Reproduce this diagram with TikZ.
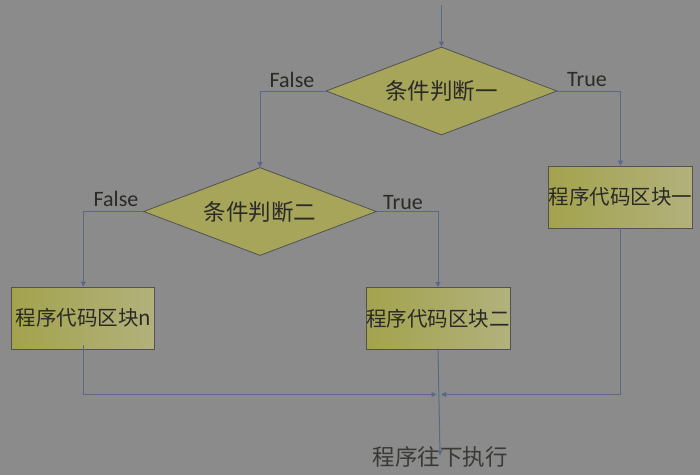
\documentclass[tikz,border=0pt]{standalone}
\usepackage{fontspec}
\setmainfont{Carlito}
\newfontfamily\cjk{Noto Sans CJK SC}
\usetikzlibrary{shapes.geometric,arrows.meta}
\definecolor{bgc}{RGB}{139,139,139}
\definecolor{dfill}{RGB}{166,165,90}
\definecolor{boxL}{RGB}{163,163,78}
\definecolor{boxR}{RGB}{178,177,124}
\definecolor{linec}{RGB}{90,104,140}
\definecolor{edgec}{RGB}{82,82,82}
\definecolor{txtc}{RGB}{42,42,38}
\tikzset{
  decision/.style={diamond, draw=edgec, line width=0.8pt, fill=dfill, inner sep=0pt,
    minimum width=#1, minimum height=88pt, aspect=2.6,
    font=\cjk\fontsize{22.5}{22.5}\selectfont, text=txtc},
  codebox/.style={rectangle, draw=edgec, line width=0.8pt, left color=boxL, right color=boxR,
    minimum width=144pt, minimum height=62pt, inner sep=0pt,
    font=\cjk\fontsize{20.5}{20.5}\selectfont, text=txtc},
  branch/.style={font=\fontsize{22}{22}\selectfont, text=txtc, inner sep=0pt},
  flow/.style={draw=linec, line width=1pt, -{Triangle[length=5pt,width=5pt]}},
  endtext/.style={font=\cjk\fontsize{22.5}{22.5}\selectfont, text=txtc!85!bgc, inner sep=0pt}
}
\begin{document}
\begin{tikzpicture}[x=1pt,y=-1pt]
\fill[bgc] (0,0) rectangle (700,475);
\useasboundingbox (0,0) rectangle (700,475);
\coordinate (start) at (441.5,5);
\node[decision=231pt] (d1) at (441.5,91) {条件判断一};
\node[decision=233pt] (d2) at (260,211.5) {条件判断二};
\node[codebox] (b1) at (620.5,197) {程序代码区块一};
\node[codebox, minimum width=143pt] (bn) at (83.3,318) {程序代码区块n};
\node[codebox] (b2) at (438,318.4) {程序代码区块二};
\node[endtext] (end) at (440,457) {程序往下执行};
\coordinate (m) at (438,394.5);
\node[branch] (f1) at (292,80) {False};
\node[branch] (t1) at (587,80) {True};
\node[branch] (f2) at (116,199) {False};
\node[branch] (t2) at (403,203) {True};
\draw[flow] (start) -- (d1.north);
\draw[flow] (d1.west) -| (d2.north);
\draw[flow] (d1.east) -| (b1.north);
\draw[flow] (d2.west) -| (bn.north);
\draw[flow] (d2.east) -| (b2.north);
\draw[flow] (b2.south) -- ([yshift=-9pt]end.north);
\draw[flow] ([yshift=4pt]bn.south) |- ([xshift=-1.5pt]m);
\draw[flow] (b1.south) |- ([xshift=3pt]m);
\end{tikzpicture}
\end{document}
